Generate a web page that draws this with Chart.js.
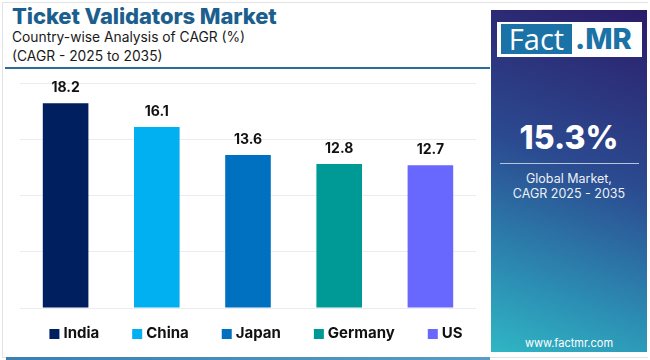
<!DOCTYPE html>
<html>
<head>
<meta charset="utf-8">
<script src="https://cdn.jsdelivr.net/npm/chart.js@4.4.1/dist/chart.umd.min.js"></script>
<style>
  html, body { margin: 0; padding: 0; background: #fff; }
  body { width: 650px; height: 360px; position: relative; overflow: hidden; font-family: Inter, "Noto Sans", sans-serif; }
  #frame { position: absolute; left: 2px; top: 2px; width: 646px; height: 356px; border: 1px solid #e3e3e6; border-right: none; box-sizing: border-box; }
  #title { position: absolute; left: 12px; top: 3px; font-size: 22px; font-weight: 800; color: #1c5f8e; letter-spacing: -0.1px; }
  #sub1 { position: absolute; left: 12px; top: 29px; font-size: 13.8px; color: #1a1a1a; }
  #sub2 { position: absolute; left: 12px; top: 48px; font-size: 13.8px; color: #1a1a1a; }
  #hline { position: absolute; left: 5px; top: 67px; width: 485px; height: 2px; background: #2a6e98; }
  #bline { position: absolute; left: 6px; top: 357px; width: 484px; height: 3px; background: linear-gradient(to right, #3a7fb0, #5a9cc8); }
  #wrap { position: absolute; left: 0; top: 70px; width: 490px; height: 288px; }
  #panel { position: absolute; left: 491px; top: 10px; width: 156px; height: 342px;
    background: linear-gradient(200deg, #2c1c68 0%, #2b4a90 45%, #2c8fb4 80%, #30b6c4 100%); }
  #logo { position: absolute; left: 6px; top: 12px; width: 145px; height: 35px; background: #fff; }
  #fact { position: absolute; left: 4px; top: 2px; width: 71px; height: 30px; background: #1a72a6; color: #fff;
    font-size: 29px; line-height: 30px; text-align: center; font-family: "Open Sans", sans-serif; }
  #mr { position: absolute; left: 78px; top: 2px; height: 30px; color: #1a72a6; font-size: 29px; line-height: 30px; font-weight: 800; font-family: Inter, sans-serif; }
  #big { position: absolute; left: 0; width: 156px; top: 108px; text-align: center; color: #fff; font-size: 32px; font-weight: 800; }
  #pline { position: absolute; left: 9px; top: 153px; width: 139px; height: 1px; background: #b8c4dc; }
  #glob { position: absolute; left: 0; width: 156px; top: 162px; text-align: center; color: #eef0f6; font-size: 12.5px; line-height: 14.5px; }
  #web { position: absolute; left: 0; width: 156px; top: 326px; text-align: center; color: #fff; font-size: 11px; }
</style>
</head>
<body>
<div id="frame"></div>
<div id="title">Ticket Validators Market</div>
<div id="sub1">Country-wise Analysis of CAGR (%)</div>
<div id="sub2">(CAGR - 2025 to 2035)</div>
<div id="hline"></div>
<div id="wrap"><canvas id="chart"></canvas></div>
<div id="bline"></div>
<div id="panel">
  <div id="logo"><div id="fact">Fact</div><div id="mr">.MR</div></div>
  <div id="big">15.3%</div>
  <div id="pline"></div>
  <div id="glob">Global Market,<br>CAGR 2025 - 2035</div>
  <div id="web">www.factmr.com</div>
</div>
<script>
const countries = ["India", "China", "Japan", "Germany", "US"];
const cagr = [18.2, 16.1, 13.6, 12.8, 12.7];
const barColors = ["#001f5e", "#00b0f0", "#0070c0", "#009a96", "#6868ff"];

// value on top of each bar
const valueLabels = {
  id: "valueLabels",
  afterDatasetsDraw(chart){
    const ctx = chart.ctx;
    const meta = chart.getDatasetMeta(0);
    ctx.save();
    ctx.font = "bold 14px Inter, sans-serif";
    ctx.fillStyle = "#111";
    ctx.textAlign = "center";
    ctx.textBaseline = "bottom";
    meta.data.forEach((bar, i) => {
      ctx.fillText(cagr[i].toFixed(1), bar.x, bar.y - 8);
    });
    ctx.restore();
  }
};

// legend row under the plot, squares + bold names
const legendRow = {
  id: "legendRow",
  afterDraw(chart){
    const ctx = chart.ctx;
    const box = 10, gapText = 4, gap = 33;
    const y = 263, cx = 256;
    ctx.save();
    ctx.font = "bold 15px Inter, sans-serif";
    ctx.textBaseline = "middle";
    const widths = countries.map(c => box + gapText + ctx.measureText(c).width);
    const total = widths.reduce((a, b) => a + b, 0) + gap * (countries.length - 1);
    let x = cx - total / 2;
    countries.forEach((c, i) => {
      ctx.fillStyle = barColors[i];
      ctx.fillRect(x, y - box / 2 + 1, box, box);
      ctx.fillStyle = "#111";
      ctx.fillText(c, x + box + gapText, y);
      x += widths[i] + gap;
    });
    ctx.restore();
  }
};

new Chart(document.getElementById("chart"), {
  type: "bar",
  data: {
    labels: countries,
    datasets: [{
      data: cagr,
      backgroundColor: barColors,
      categoryPercentage: 1.0,
      barPercentage: 0.5
    }]
  },
  options: {
    responsive: true,
    maintainAspectRatio: false,
    animation: false,
    layout: { padding: { left: 20, right: 14, top: 13, bottom: 50 } },
    scales: {
      x: { display: false },
      y: {
        min: 0, max: 20,
        ticks: { display: false, stepSize: 5 },
        grid: { color: "#ececf0", drawTicks: false },
        border: { display: false }
      }
    },
    plugins: { legend: { display: false }, tooltip: { enabled: false } }
  },
  plugins: [valueLabels, legendRow]
});
</script>
</body>
</html>
